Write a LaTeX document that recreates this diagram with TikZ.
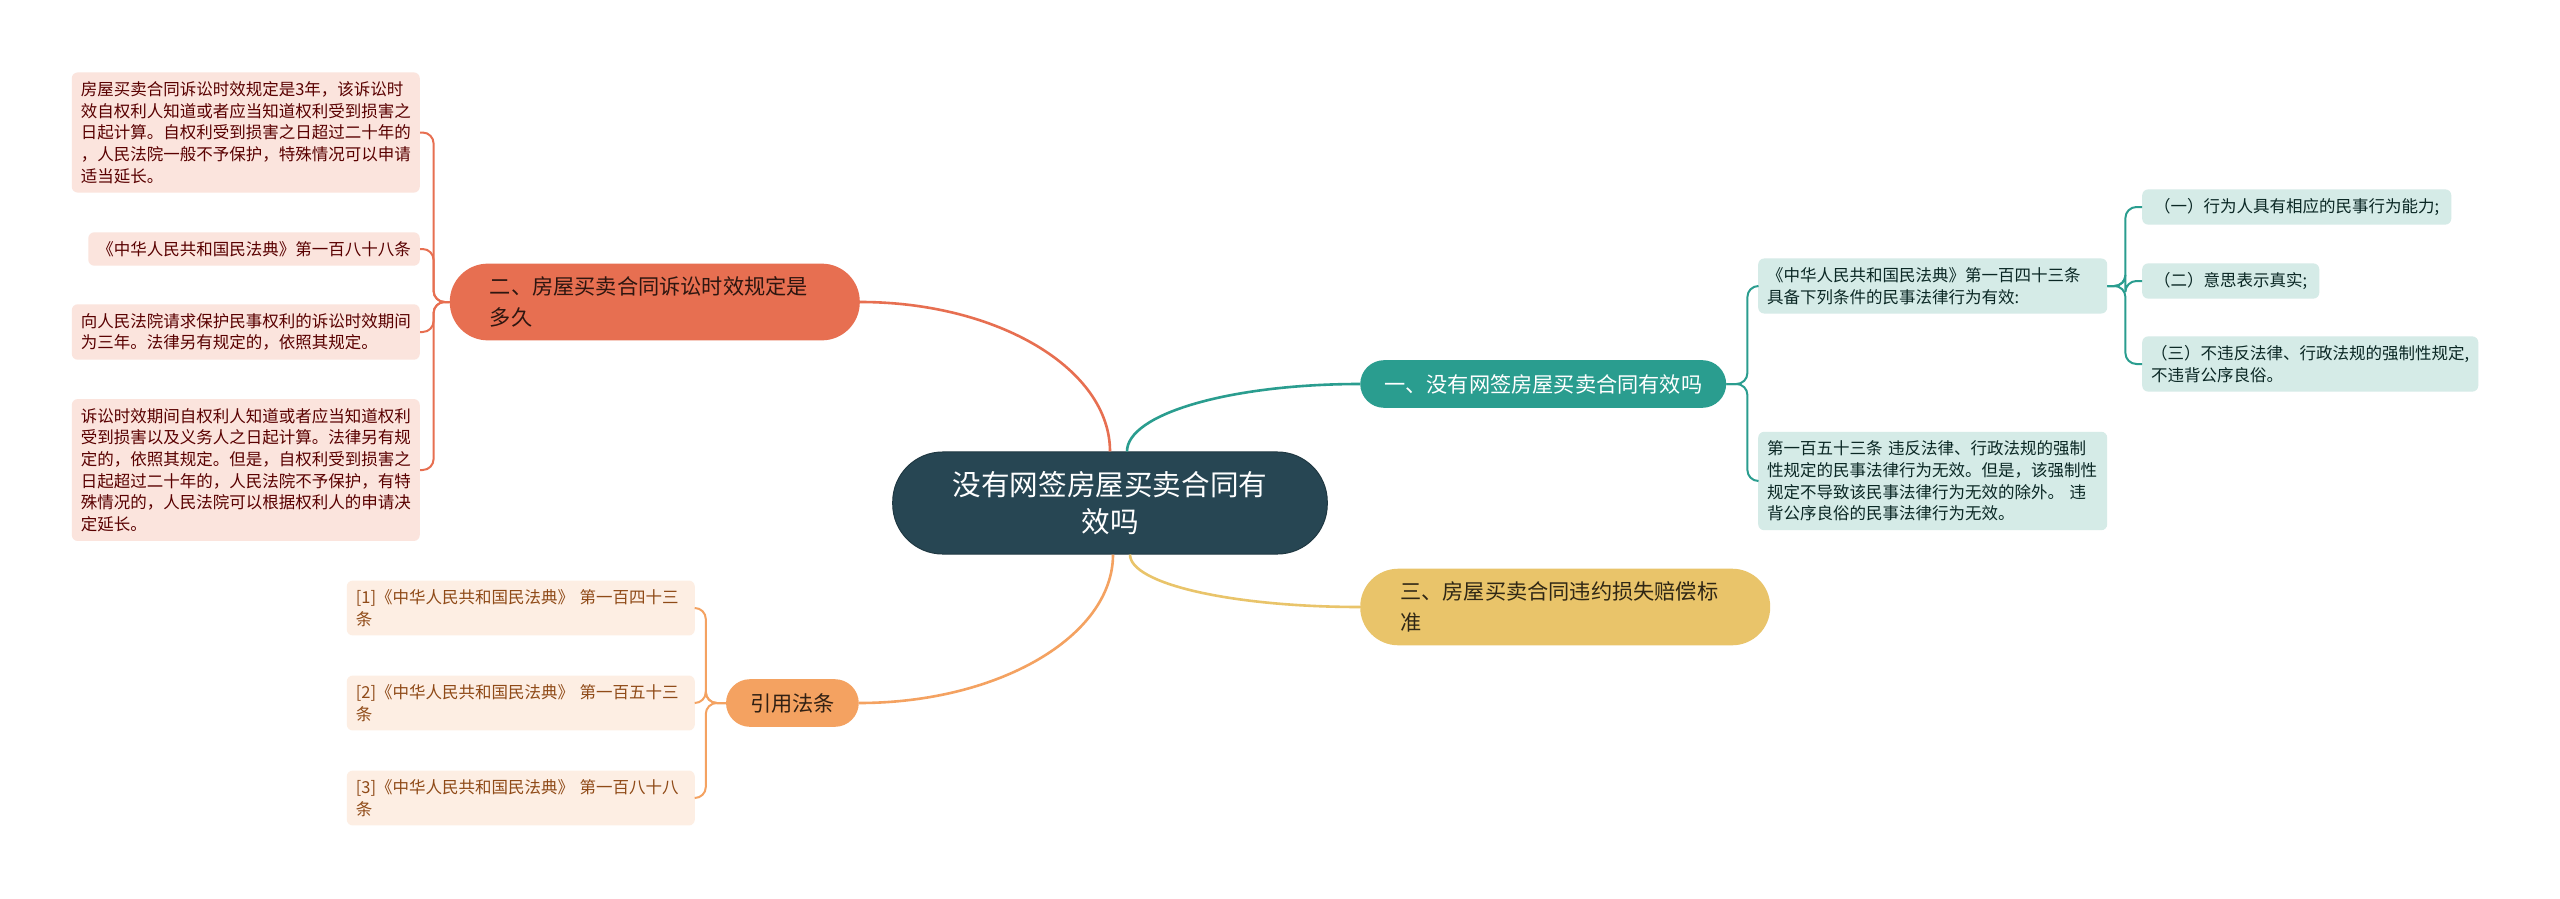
\documentclass[tikz,border=0pt]{standalone}
\usepackage{fontspec}
\setmainfont{Noto Sans CJK SC}
\definecolor{hubc}{HTML}{274653}
\definecolor{tealc}{HTML}{2A9D8F}
\definecolor{redc}{HTML}{E76F51}
\definecolor{yelc}{HTML}{E9C46A}
\definecolor{orac}{HTML}{F4A261}
\definecolor{tealleafc}{HTML}{D5EBE7}
\definecolor{redleafc}{HTML}{FBE4DD}
\definecolor{oraleafc}{HTML}{FDEEE3}
\definecolor{citetextc}{HTML}{8F4A17}
\begin{document}
\begin{tikzpicture}[x=1pt,y=-1pt,
  hub/.style={fill=hubc,draw=hubc!80!black,line width=1pt,rounded corners=50pt,text=white,
    align=center,inner xsep=60pt,inner ysep=19pt,font=\fontsize{28.6}{37.5}\selectfont},
  topic/.style={rounded corners=24pt,align=left,inner xsep=24pt,inner ysep=14pt,
    font=\fontsize{21.2}{31}\selectfont},
  twoline/.style={topic,rounded corners=38pt,text width=330pt,inner xsep=40pt,inner ysep=13pt},
  leaf/.style={rounded corners=6pt,align=left,inner xsep=9pt,inner ysep=9pt,
    font=\fontsize{16.5}{21.7}\selectfont},
  redleaf/.style={leaf,fill=redleafc,text=red!35!black},
  tealleaf/.style={leaf,fill=tealleafc,text=tealc!25!black},
  citeleaf/.style={leaf,fill=oraleafc,text=citetextc,text width=330pt},
  link/.style={line width=2pt,rounded corners=11pt},
  branchline/.style={line width=2.6pt}]
\fill[white] (0,0) rectangle (2560,899);
\useasboundingbox (0,0) rectangle (2560,899);

% centre and the four topics
\node[hub] (hub) at (1110,503) {没有网签房屋买卖合同有\\效吗};
\node[topic,fill=tealc,text=white,anchor=west] (valid) at (1360,384) {一、没有网签房屋买卖合同有效吗};
\node[twoline,fill=redc,text=redc!20!black,anchor=east] (limit) at (860,302) {二、房屋买卖合同诉讼时效规定是\\多久};
\node[twoline,fill=yelc,text=yelc!20!black,anchor=west] (loss) at (1360,607) {三、房屋买卖合同违约损失赔偿标\\准};
\node[topic,fill=orac,text=orac!20!black,anchor=east] (cite) at (859,703) {引用法条};

\draw[branchline,tealc] (hub.north)++(17,0) .. controls (1127,414) and (1230,384) .. (valid.west);
\draw[branchline,redc] (hub.north) .. controls (1110,369) and (998,302) .. (limit.east);
\draw[branchline,yelc] (hub.south)++(20,0) .. controls (1130,584) and (1233,607) .. (loss.west);
\draw[branchline,orac] (hub.south)++(3,0) .. controls (1113,636) and (999,703) .. (cite.east);

% branch one
\node[tealleaf,text width=331pt,anchor=west] (art143) at (1758,286) {《中华人民共和国民法典》第一百四十三条\\具备下列条件的民事法律行为有效:};
\node[tealleaf,text width=331pt,anchor=west] (art153) at (1758,481) {第一百五十三条 违反法律、行政法规的强制\\性规定的民事法律行为无效。但是，该强制性\\规定不导致该民事法律行为无效的除外。 违\\背公序良俗的民事法律行为无效。};
\node[tealleaf,inner xsep=12pt,anchor=west] (cond1) at (2142,207) {（一）行为人具有相应的民事行为能力;};
\node[tealleaf,inner xsep=12pt,anchor=west] (cond2) at (2142,281) {（二）意思表示真实;};
\node[tealleaf,anchor=west] (cond3) at (2142,364) {（三）不违反法律、行政法规的强制性规定,\\不违背公序良俗。};
\foreach \n in {art143,art153}
  \draw[link,tealc] (valid.east) -- ++(21,0) |- (\n.west);
\foreach \n in {cond1,cond2,cond3}
  \draw[link,tealc] (art143.east) -- ++(18,0) |- (\n.west);

% branch two
\node[redleaf,anchor=east] (lim1) at (420,132.5) {房屋买卖合同诉讼时效规定是3年，该诉讼时\\效自权利人知道或者应当知道权利受到损害之\\日起计算。自权利受到损害之日超过二十年的\\，人民法院一般不予保护，特殊情况可以申请\\适当延长。};
\node[redleaf,anchor=east] (lim2) at (420,249) {《中华人民共和国民法典》第一百八十八条};
\node[redleaf,anchor=east] (lim3) at (420,332) {向人民法院请求保护民事权利的诉讼时效期间\\为三年。法律另有规定的，依照其规定。};
\node[redleaf,anchor=east] (lim4) at (420,470) {诉讼时效期间自权利人知道或者应当知道权利\\受到损害以及义务人之日起计算。法律另有规\\定的，依照其规定。但是，自权利受到损害之\\日起超过二十年的，人民法院不予保护，有特\\殊情况的，人民法院可以根据权利人的申请决\\定延长。};
\foreach \n in {lim1,lim2,lim3,lim4}
  \draw[link,redc] (limit.west) -- ++(-16,0) |- (\n.east);

% cited articles
\foreach \i/\y/\num in {1/608/四十三,2/703/五十三,3/798/八十八}{
  \node[citeleaf,anchor=east] (ref\i) at (695,\y) {[\i]《中华人民共和国民法典》 第一百\num\\条};
  \draw[link,orac] (cite.west) -- ++(-20,0) |- (ref\i.east);
}
\end{tikzpicture}
\end{document}
